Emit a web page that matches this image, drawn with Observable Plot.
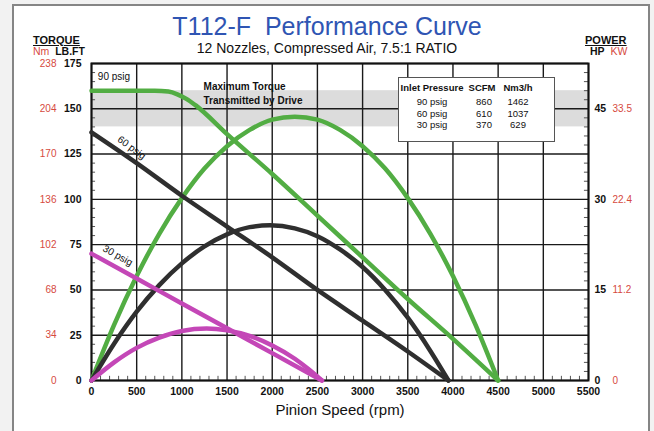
<!DOCTYPE html>
<html><head><meta charset="utf-8">
<script src="https://cdn.jsdelivr.net/npm/d3@7"></script>
<script src="https://cdn.jsdelivr.net/npm/@observablehq/plot@0.6"></script>
<style>
html,body{margin:0;padding:0;background:#f2f2f2;}
#wrap{position:relative;width:654px;height:431px;overflow:hidden;font-family:"Liberation Sans",Arial,sans-serif;color:#111;}
#border{position:absolute;left:12px;top:4px;width:638px;height:450px;border:2px solid #858585;background:#fff;box-sizing:border-box;}
#chart{position:absolute;left:0;top:0;}
.t{position:absolute;white-space:nowrap;line-height:1;}
.red{color:#d64a3e;}
#title{left:0;width:654px;text-align:center;top:14px;font-size:25px;color:#2f55b3;}
#sub{left:0;width:654px;text-align:center;top:41px;font-size:14px;}
.hdr{font-size:11px;font-weight:bold;text-decoration:underline;}
.unit{font-size:10.5px;font-weight:bold;}
#legend{position:absolute;left:398px;top:77px;width:157px;height:65px;border:1px solid #555;background:#fff;box-sizing:border-box;font-size:9.5px;}
#legend .c{position:absolute;transform:translateX(-50%);white-space:nowrap;line-height:1;}
</style>
</head><body>
<div id="wrap">
  <div id="border"></div>
  <div id="chart"></div>
  <div class="t" id="title">T112-F&nbsp; Performance Curve</div>
  <div class="t" id="sub">12 Nozzles, Compressed Air, 7.5:1 RATIO</div>
  <div class="t hdr" style="left:33px;top:35px;">TORQUE</div>
  <div class="t unit" style="left:33px;top:46px;"><span class="red" style="font-weight:normal">Nm</span>&nbsp; LB.FT</div>
  <div class="t hdr" style="left:585px;top:35px;">POWER</div>
  <div class="t unit" style="left:590px;top:46px;">HP&nbsp; <span class="red" style="font-weight:normal">KW</span></div>
  <div id="legend"></div>
</div>
<script>
// ---- data ----
const xTicks = [0, 500, 1000, 1500, 2000, 2500, 3000, 3500, 4000, 4500, 5000, 5500];
const lbftTicks = [0, 25, 50, 75, 100, 125, 150, 175];
const nmLabels = ["0", "34", "68", "102", "136", "170", "204", "238"];
const hpTicks = [0, 15, 30, 45];
const kwLabels = ["0", "11.2", "22.4", "33.5"];

// 90 psig
const rpm90T = [0, 700, 850, 950, 1050, 1150, 1500, 2000, 2500, 3000, 3500, 4000, 4500];
const torque90 = [160, 160, 159.5, 158, 155.5, 152, 136, 114, 91, 68, 45, 23, 0];
const rpm90P = [0, 250, 500, 750, 1000, 1250, 1500, 1750, 2000, 2250, 2500, 2750, 3000, 3250, 3500, 3750, 4000, 4250, 4500];
const hp90 = [0, 9.2, 17.3, 24.3, 30.2, 35.1, 38.8, 41.5, 43.2, 43.7, 43.2, 41.5, 38.8, 35.1, 30.2, 24.3, 17.3, 9.2, 0];

// 60 psig
const rpm60T = [0, 500, 1000, 1500, 2000, 2500, 3000, 3500, 3950];
const torque60 = [137, 120, 102, 85, 68, 50, 33, 16, 0];
const rpm60P = [0, 250, 500, 750, 1000, 1250, 1500, 1750, 1975, 2250, 2500, 2750, 3000, 3250, 3500, 3750, 3950];
const hp60 = [0, 6.1, 11.4, 15.8, 19.4, 22.2, 24.2, 25.4, 25.7, 25.2, 23.9, 21.7, 18.8, 15.0, 10.4, 4.9, 0];

// 30 psig
const rpm30T = [0, 500, 1000, 1500, 2000, 2550];
const torque30 = [70, 56.3, 42.5, 28.8, 15.1, 0];
const rpm30P = [0, 250, 500, 750, 1000, 1275, 1500, 1750, 2000, 2250, 2400, 2550];
const hp30 = [0, 3.0, 5.4, 7.1, 8.2, 8.6, 8.3, 7.4, 5.8, 3.6, 1.9, 0];

const legendHead = ["Inlet Pressure", "SCFM", "Nm3/h"];
const legendPressure = ["90 psig", "60 psig", "30 psig"];
const legendScfm = ["860", "610", "370"];
const legendNm3h = ["1462", "1037", "629"];

const bandRange = [140, 160];
const bandNotes = ["Maximum Torque", "Transmitted by Drive"];

// ---- build tables ----
const HP_PER_UNIT = 0.3; // 45 HP sits at 150 LB.FT
const zip = (xs, ys) => xs.map((x, i) => ({x, y: ys[i]}));
const zipP = (xs, ys) => xs.map((x, i) => ({x, y: ys[i] / HP_PER_UNIT}));
const series = [
  {color: "#52ad43", t: zip(rpm90T, torque90), p: zipP(rpm90P, hp90)},
  {color: "#2f2f2f", t: zip(rpm60T, torque60), p: zipP(rpm60P, hp60)},
  {color: "#c447b7", t: zip(rpm30T, torque30), p: zipP(rpm30P, hp30)}
];
const minorX = d3.range(100, 5500, 100).filter(v => v % 500 !== 0);
const minorY = d3.range(5, 175, 5).filter(v => v % 25 !== 0);
const hpPos = hpTicks.map(h => h / HP_PER_UNIT);

const lineMarks = [];
for (const s of series) {
  lineMarks.push(Plot.line(s.t, {x: "x", y: "y", stroke: s.color, strokeWidth: 4.5, curve: "monotone-x"}));
  lineMarks.push(Plot.line(s.p, {x: "x", y: "y", stroke: s.color, strokeWidth: 4.5, curve: "monotone-x"}));
}

const chart = Plot.plot({
  width: 654, height: 431,
  marginLeft: 91, marginRight: 66, marginTop: 63, marginBottom: 51,
  style: {fontFamily: "'Liberation Sans', Arial, sans-serif", background: "transparent", color: "#111"},
  x: {domain: [0, 5500]},
  y: {domain: [0, 175]},
  marks: [
    Plot.rect([bandRange], {x1: 0, x2: 5500, y1: d => d[0], y2: d => d[1], fill: "#dcdcdc"}),
    Plot.gridX(xTicks, {stroke: "#1a1a1a", strokeOpacity: 1, strokeWidth: 1.4}),
    Plot.gridY(lbftTicks, {stroke: "#1a1a1a", strokeOpacity: 1, strokeWidth: 1.4}),
    Plot.ruleX(minorX, {y1: 0, y2: 2.3, stroke: "#555", strokeWidth: 1}),
    Plot.ruleY(minorY, {x1: 0, x2: 45, stroke: "#555", strokeWidth: 1}),
    Plot.ruleY(minorY, {x1: 5455, x2: 5500, stroke: "#555", strokeWidth: 1}),
    Plot.frame({stroke: "#111", strokeWidth: 2}),
    Plot.axisX({ticks: xTicks, tickSize: 0, tickPadding: 7, fontSize: 10.5, fontWeight: "bold", label: null, tickFormat: d => String(d)}),
    Plot.axisY({ticks: lbftTicks, tickSize: 0, tickPadding: 10, fontSize: 10.5, fontWeight: "bold", label: null, tickFormat: d => String(d)}),
    Plot.axisY({ticks: lbftTicks, tickSize: 0, tickPadding: 35, fontSize: 10, fill: "#d64a3e", label: null,
      tickFormat: d => nmLabels[lbftTicks.indexOf(d)]}),
    Plot.axisY({anchor: "right", ticks: hpPos, tickSize: 0, tickPadding: 6, fontSize: 10.5, fontWeight: "bold", label: null,
      tickFormat: d => String(Math.round(d * HP_PER_UNIT))}),
    Plot.axisY({anchor: "right", ticks: hpPos, tickSize: 0, tickPadding: 24, fontSize: 10, fill: "#d64a3e", label: null,
      tickFormat: d => kwLabels[hpTicks.indexOf(Math.round(d * HP_PER_UNIT))]}),
    Plot.text(["Pinion Speed (rpm)"], {frameAnchor: "bottom", dy: 34, fontSize: 15, fill: "#111"}),
    Plot.text([bandNotes[0]], {x: 1240, y: 162.4, textAnchor: "start", fontSize: 10, fontWeight: "bold", fill: "#111"}),
    Plot.text([bandNotes[1]], {x: 1240, y: 154.6, textAnchor: "start", fontSize: 10, fontWeight: "bold", fill: "#111"}),
    ...lineMarks,
    Plot.text([legendPressure[0]], {x: 70, y: 167.5, textAnchor: "start", fontSize: 10, fill: "#111"}),
    Plot.text([legendPressure[1]], {x: 445, y: 128.5, rotate: 36, fontSize: 10, fill: "#111"}),
    Plot.text([legendPressure[2]], {x: 290, y: 69, rotate: 29, fontSize: 10, fill: "#111"})
  ]
});
document.getElementById("chart").appendChild(chart);

// legend box (HTML)
const lg = document.getElementById("legend");
const colX = [33, 83, 119];
const rowY = [5, 19, 30.5, 42];
function cell(text, x, y, bold) {
  const d = document.createElement("div");
  d.className = "c";
  d.textContent = text;
  d.style.left = x + "px";
  d.style.top = y + "px";
  if (bold) d.style.fontWeight = "bold";
  lg.appendChild(d);
}
legendHead.forEach((h, i) => cell(h, colX[i], rowY[0], true));
legendPressure.forEach((p, i) => {
  cell(p, colX[0], rowY[i + 1], false);
  cell(legendScfm[i], colX[1] + 2, rowY[i + 1], false);
  cell(legendNm3h[i], colX[2], rowY[i + 1], false);
});
</script>
</body></html>
